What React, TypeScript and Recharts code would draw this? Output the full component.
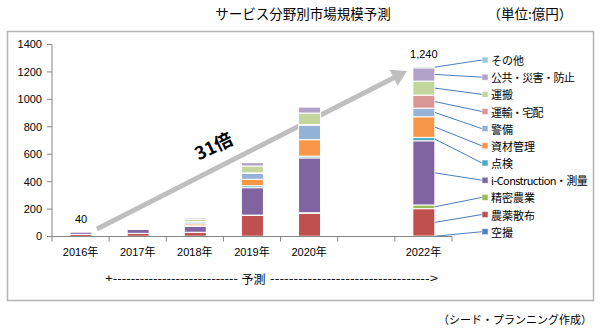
import React from 'react';
import { BarChart, Bar, XAxis, YAxis, LabelList } from 'recharts';

// 億円, bottom of the stack first
const years = ['2016年', '2017年', '2018年', '2019年', '2020年', '', '2022年'];
const aerial = [1, 2, 2, 2, 2, 0, 3];
const spraying = [14, 20, 27, 152, 168, 0, 200];
const precisionFarming = [1, 1, 2, 2, 3, 0, 27];
const iConstruction = [18, 28, 43, 200, 400, 0, 468];
const inspection = [1, 1, 4, 14, 13, 0, 25];
const materials = [1, 2, 14, 47, 120, 0, 150];
const security = [1, 2, 14, 44, 106, 0, 63];
const delivery = [0, 0, 3, 3, 5, 0, 95];
const hauling = [1, 1, 16, 50, 83, 0, 102];
const publicDisaster = [2, 3, 11, 25, 45, 0, 97];
const others = [0, 0, 2, 2, 3, 0, 10];
const totalLabels = ['40', '', '', '', '', '', '1,240'];
const yTicks = [0, 200, 400, 600, 800, 1000, 1200, 1400];

const SERIES = [
  { key: 'aerial', name: '空撮', color: '#4F81BD', values: aerial },
  { key: 'spraying', name: '農薬散布', color: '#C0504D', values: spraying },
  { key: 'precision', name: '精密農業', color: '#9BBB59', values: precisionFarming },
  { key: 'icon', name: 'i-Construction・測量', color: '#8064A2', values: iConstruction },
  { key: 'inspection', name: '点検', color: '#4BACC6', values: inspection },
  { key: 'materials', name: '資材管理', color: '#F79646', values: materials },
  { key: 'security', name: '警備', color: '#95B3D7', values: security },
  { key: 'delivery', name: '運輸・宅配', color: '#D99694', values: delivery },
  { key: 'hauling', name: '運搬', color: '#C3D69B', values: hauling },
  { key: 'public', name: '公共・災害・防止', color: '#B3A2C7', values: publicDisaster },
  { key: 'others', name: 'その他', color: '#93CDDD', values: others },
];

const data = years.map((year, i) => {
  const row: any = { year };
  SERIES.forEach(s => { row[s.key] = s.values[i]; });
  return row;
});

const LEGEND_YEAR = years[years.length - 1];

// index of the highest non-empty segment for a year
const topSeriesOf = (yearIdx: number) => {
  for (let k = SERIES.length - 1; k >= 0; k--) {
    if (SERIES[k].values[yearIdx] > 0) return k;
  }
  return -1;
};

const FONT = "'Liberation Sans', 'Noto Sans CJK JP', sans-serif";
const JP = "'Noto Sans CJK JP', sans-serif";
const LEGEND_BOTTOM = 231.7;
const LEGEND_STEP = 17.17;
const LEGEND_X = 482;

const YearTick = (props: any) => {
  const { x, y, payload, index } = props;
  const half = payload && typeof payload.offset === 'number' && payload.offset > 0 ? payload.offset : 28.57;
  return (
    <g>
      <line x1={x - half} y1={y - 5} x2={x - half} y2={y} stroke="#868686" />
      {index === years.length - 1 && (
        <line x1={x + half} y1={y - 5} x2={x + half} y2={y} stroke="#868686" />
      )}
      <text x={x} y={y + 10} textAnchor="middle" dominantBaseline="central"
        fontSize={11} fontFamily={FONT} fill="#000">
        {payload.value}
      </text>
    </g>
  );
};

const boxOf = (props: any) => {
  const vb = props.viewBox || props;
  return { x: Number(vb.x), y: Number(vb.y), w: Number(vb.width), h: Number(vb.height) };
};

// label content: value carries the year, so it does not depend on index
const makeLabel = (i: number) => (props: any) => {
  const year = props.value;
  const yearIdx = years.indexOf(year);
  if (yearIdx < 0) return null;
  const { x, y, w, h } = boxOf(props);
  const parts: React.ReactNode[] = [];
  if (year === LEGEND_YEAR) {
    const s = SERIES[i];
    const ly = LEGEND_BOTTOM - i * LEGEND_STEP;
    parts.push(
      <g key="legend">
        <line x1={x + w} y1={y + h / 2} x2={LEGEND_X} y2={ly} stroke="#4A7EBB" strokeWidth={1} />
        <rect x={LEGEND_X} y={ly - 3} width={6} height={6} fill={s.color} stroke="#fff" strokeWidth={0.5} />
        <text x={LEGEND_X + 9} y={ly} dominantBaseline="central" fontSize={11} fontFamily={JP} fill="#000"
          letterSpacing={s.name.includes('・') ? -0.6 : 0}>
          {s.name}
        </text>
      </g>
    );
  }
  if (totalLabels[yearIdx] && topSeriesOf(yearIdx) === i) {
    parts.push(
      <text key="total" x={x + w / 2} y={y - 12} textAnchor="middle" dominantBaseline="central"
        fontSize={11} fontFamily={FONT} fill="#000">
        {totalLabels[yearIdx]}
      </text>
    );
  }
  return parts.length ? <g>{parts}</g> : null;
};

// growth arrow annotation
const A0 = { x: 97, y: 229 };
const A1 = { x: 407, y: 71 };
const arrow = (() => {
  const dx = A1.x - A0.x, dy = A1.y - A0.y;
  const len = Math.sqrt(dx * dx + dy * dy);
  const ux = dx / len, uy = dy / len;
  const nx = -uy, ny = ux;
  const bx = A1.x - 15 * ux, by = A1.y - 15 * uy;
  return {
    line: { x2: bx + 2 * ux, y2: by + 2 * uy },
    head: `${A1.x},${A1.y} ${bx + 9 * nx},${by + 9 * ny} ${bx - 9 * nx},${by - 9 * ny}`,
  };
})();

const App: React.FC = () => {
  return (
    <div style={{ position: 'absolute', left: 0, top: 0, width: 601, height: 333, background: '#fff' }}>
      <svg width={601} height={333} style={{ position: 'absolute', left: 0, top: 0 }}>
        <rect x={7.5} y={31.5} width={586} height={269} fill="#fff" stroke="#B4B4B4" strokeWidth={1.5} />
        <text x={303} y={13} textAnchor="middle" dominantBaseline="central" fontSize={13.5} fontFamily={JP} fill="#000">
          サービス分野別市場規模予測
        </text>
        <text x={530} y={13} textAnchor="middle" dominantBaseline="central" fontSize={13.5} fontFamily={JP} fill="#000">
          （単位:億円）
        </text>
        <line x1={A0.x} y1={A0.y} x2={arrow.line.x2} y2={arrow.line.y2} stroke="#BFBFBF" strokeWidth={5} />
        <polygon points={arrow.head} fill="#BFBFBF" />
        <text x={213} y={145} textAnchor="middle" dominantBaseline="central" fontSize={18} fontWeight={700}
          fontFamily={JP} fill="#000" transform="rotate(-26 213 145)">
          31倍
        </text>
        <text x={105} y={278} dominantBaseline="central" fontSize={11} fontFamily={FONT} fill="#000"
          textLength={133} lengthAdjust="spacingAndGlyphs">
          +----------------------------
        </text>
        <text x={253.5} y={278} textAnchor="middle" dominantBaseline="central" fontSize={12} fontFamily={JP} fill="#000">
          予測
        </text>
        <text x={270} y={278} dominantBaseline="central" fontSize={11} fontFamily={FONT} fill="#000"
          textLength={168} lengthAdjust="spacingAndGlyphs">
          ----------------------------------&gt;
        </text>
        <text x={592} y={319} textAnchor="end" dominantBaseline="central" fontSize={11} fontFamily={JP} fill="#000">
          （シード・プランニング作成）
        </text>
      </svg>
      <div style={{ position: 'absolute', left: 0, top: 0 }}>
        <BarChart width={601} height={333} data={data}
          margin={{ top: 44.5, right: 149, left: 12, bottom: 66.5 }}
          barSize={22}>
          <XAxis dataKey="year" height={30} tickLine={false} tickSize={5} tickMargin={0}
            axisLine={{ stroke: '#868686' }} tick={<YearTick />} interval={0} />
          <YAxis width={40} domain={[0, 1400]} ticks={yTicks} interval={0}
            tickSize={5} tickMargin={5}
            axisLine={{ stroke: '#868686' }} tickLine={{ stroke: '#868686' }}
            tick={{ fontSize: 11, fontFamily: FONT, fill: '#000' }} />
          {SERIES.map((s, i) => (
            <Bar key={s.key} dataKey={s.key} name={s.name} stackId="a" fill={s.color}
              stroke="#fff" strokeWidth={1} isAnimationActive={false}>
              <LabelList dataKey={(row: any) => row.year} content={makeLabel(i)} />
            </Bar>
          ))}
        </BarChart>
      </div>
    </div>
  );
};

export default App;
